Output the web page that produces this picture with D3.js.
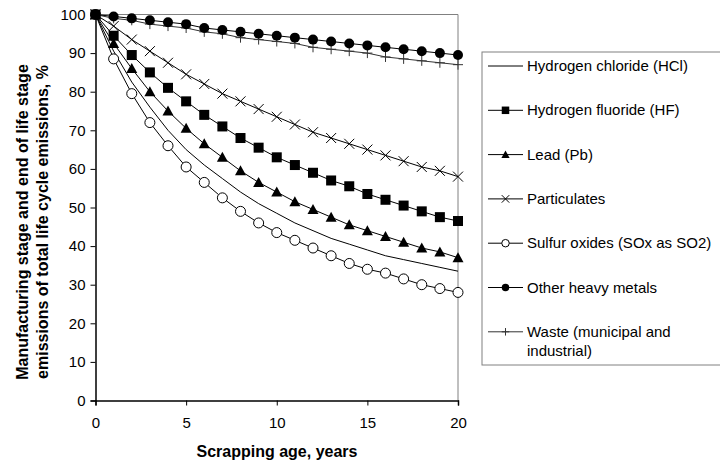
<!DOCTYPE html>
<html>
<head>
<meta charset="utf-8">
<script src="https://cdnjs.cloudflare.com/ajax/libs/d3/7.8.5/d3.min.js"></script>
<style>
  body { margin: 0; background: #fff; }
  svg { font-family: "Liberation Sans", Arial, sans-serif; }
</style>
</head>
<body>
<div class="graph-container"></div>
<script>
// scrapping age, years
var years = d3.range(0, 21);

var hcl = [100, 90.5, 82.5, 76, 70, 65, 61, 57.5, 54, 51, 48.5, 46, 44, 42, 40.5, 39, 37.5, 36.5, 35.5, 34.5, 33.5];
var hf = [100, 94.5, 89.5, 85, 81, 77.5, 74, 71, 68, 65.5, 63, 61, 59, 57, 55.5, 53.5, 52, 50.5, 49, 47.5, 46.5];
var lead = [100, 92.5, 86, 80, 75, 70.5, 66.5, 63, 59.5, 56.5, 54, 51.5, 49.5, 47.5, 45.5, 44, 42.5, 41, 39.5, 38.5, 37];
var particulates = [100, 97, 93.5, 90.5, 87.5, 84.5, 82, 79.5, 77.5, 75.5, 73.5, 71.5, 69.5, 68, 66.5, 65, 63.5, 62, 60.5, 59.5, 58];
var sox = [100, 88.5, 79.5, 72, 66, 60.5, 56.5, 52.5, 49, 46, 43.5, 41.5, 39.5, 37.5, 35.5, 34, 33, 31.5, 30, 29, 28];
var heavyMetals = [100, 99.5, 99, 98.5, 98, 97.5, 96.5, 96, 95.5, 95, 94.5, 94, 93.5, 93, 92.5, 92, 91.5, 91, 90.5, 90, 89.5];
var waste = [100, 99, 98.5, 97.5, 97, 96.5, 95.5, 95, 94, 93.5, 93, 92.5, 91.5, 91, 90.5, 90, 89, 88.5, 88, 87.5, 87];

var seriesNames = ['Hydrogen chloride (HCl)', 'Hydrogen fluoride (HF)', 'Lead (Pb)', 'Particulates',
    'Sulfur oxides (SOx as SO2)', 'Other heavy metals', 'Waste (municipal and industrial)'];
var seriesValues = [hcl, hf, lead, particulates, sox, heavyMetals, waste];
var seriesMarkers = ['none', 'square', 'triangle', 'cross', 'openCircle', 'dot', 'plus'];

var xTicks = [0, 5, 10, 15, 20];
var yTicks = [0, 10, 20, 30, 40, 50, 60, 70, 80, 90, 100];

var svgWidth = 720;
var svgHeight = 464;
var plotLeft = 95.5;
var plotRight = 458;
var plotTop = 14.5;
var plotBottom = 400.5;

var xScale = d3.scaleLinear().domain([0, 20]).range([plotLeft, plotRight]);
var yScale = d3.scaleLinear().domain([0, 100]).range([plotBottom, plotTop]);

var svg = d3.select('.graph-container').append('svg')
    .attr('width', svgWidth)
    .attr('height', svgHeight);

// plot frame (top and right)
svg.append('path')
    .attr('d', 'M' + plotLeft + ',' + plotTop + 'H' + plotRight + 'V' + plotBottom)
    .attr('fill', 'none')
    .attr('stroke', '#808080')
    .attr('stroke-width', 1);

// draws one marker centred at 0,0, k scales it
function drawMarker(g, type, k) {
    k = k || 1;
    if (type === 'square') {
        g.append('rect').attr('x', -5 * k).attr('y', -5 * k).attr('width', 10 * k).attr('height', 10 * k).attr('fill', '#000');
    } else if (type === 'triangle') {
        g.append('path').attr('d', 'M0,' + (-5.5 * k) + 'L' + (5.5 * k) + ',' + (4.5 * k) + 'L' + (-5.5 * k) + ',' + (4.5 * k) + 'Z').attr('fill', '#000');
    } else if (type === 'cross') {
        var c = 5 * k;
        g.append('path').attr('d', 'M' + -c + ',' + -c + 'L' + c + ',' + c + 'M' + -c + ',' + c + 'L' + c + ',' + -c).attr('stroke', '#000').attr('stroke-width', 1);
    } else if (type === 'openCircle') {
        g.append('circle').attr('r', 5 * k).attr('fill', '#fff').attr('stroke', '#000').attr('stroke-width', 1);
    } else if (type === 'dot') {
        g.append('circle').attr('r', 5 * k).attr('fill', '#000');
    } else if (type === 'plus') {
        var p = 5 * k;
        g.append('path').attr('d', 'M' + -p + ',0H' + p + 'M0,' + -p + 'V' + p).attr('stroke', '#333').attr('stroke-width', 1);
    }
}

var line = d3.line()
    .x(function(d, i) { return xScale(years[i]); })
    .y(function(d) { return yScale(d); });

// draw series back to front so the markers sit on top
var order = [6, 5, 3, 0, 4, 2, 1];
order.forEach(function(s) {
    svg.append('path')
        .datum(seriesValues[s])
        .attr('d', line)
        .attr('fill', 'none')
        .attr('stroke', s === 6 ? '#333' : '#000')
        .attr('stroke-width', 1);
});
order.forEach(function(s) {
    if (seriesMarkers[s] === 'none') return;
    svg.selectAll(null)
        .data(seriesValues[s])
        .enter()
        .append('g')
        .attr('transform', function(d, i) {
            return 'translate(' + xScale(years[i]) + ',' + yScale(d) + ')';
        })
        .each(function() { drawMarker(d3.select(this), seriesMarkers[s]); });
});

// axes
var xAxis = d3.axisBottom(xScale).tickValues(xTicks).tickSizeOuter(0).tickSize(5).tickPadding(12);
var gx = svg.append('g')
    .attr('transform', 'translate(0,' + plotBottom + ')')
    .call(xAxis);
gx.select('.domain').attr('stroke', '#000').attr('stroke-width', 1.5);
gx.selectAll('text').style('font-size', '15px').attr('fill', '#000');

var yAxis = d3.axisLeft(yScale).tickValues(yTicks).tickSizeOuter(0).tickSize(5).tickPadding(5);
var gy = svg.append('g')
    .attr('transform', 'translate(' + plotLeft + ',0)')
    .call(yAxis);
gy.select('.domain').attr('stroke', '#000').attr('stroke-width', 1.5);
gy.selectAll('text').style('font-size', '15px').attr('fill', '#000');

// axis titles
svg.append('text')
    .attr('x', 277)
    .attr('y', 457)
    .style('text-anchor', 'middle')
    .style('font-size', '16px')
    .style('font-weight', 'bold')
    .text('Scrapping age, years');

var yTitle = svg.append('text')
    .attr('transform', 'translate(0,222) rotate(-90)')
    .style('text-anchor', 'middle')
    .style('font-size', '16px')
    .style('font-weight', 'bold');
yTitle.append('tspan').attr('x', 0).attr('y', 28).text('Manufacturing stage and end of life stage');
yTitle.append('tspan').attr('x', 0).attr('y', 48).text('emissions of total life cycle emissions, %');

// legend
var legend = svg.append('g');
legend.append('rect')
    .attr('x', 482)
    .attr('y', 52)
    .attr('width', 260)
    .attr('height', 313)
    .attr('fill', '#fff')
    .attr('stroke', '#808080')
    .attr('stroke-width', 1);

seriesNames.forEach(function(name, s) {
    var cy = 66 + s * 44.3;
    var item = legend.append('g');
    item.append('line')
        .attr('x1', 488).attr('x2', 523)
        .attr('y1', cy).attr('y2', cy)
        .attr('stroke', s === 6 ? '#333' : '#000')
        .attr('stroke-width', 1);
    var m = item.append('g').attr('transform', 'translate(505.5,' + cy + ')');
    drawMarker(m, seriesMarkers[s], 0.75);
    var t = item.append('text')
        .attr('x', 527)
        .attr('y', cy + 5)
        .style('font-size', '15px');
    if (s === 6) {
        t.append('tspan').attr('x', 527).text('Waste (municipal and');
        t.append('tspan').attr('x', 527).attr('dy', 19).text('industrial)');
    } else {
        t.text(name);
    }
});
</script>
</body>
</html>
